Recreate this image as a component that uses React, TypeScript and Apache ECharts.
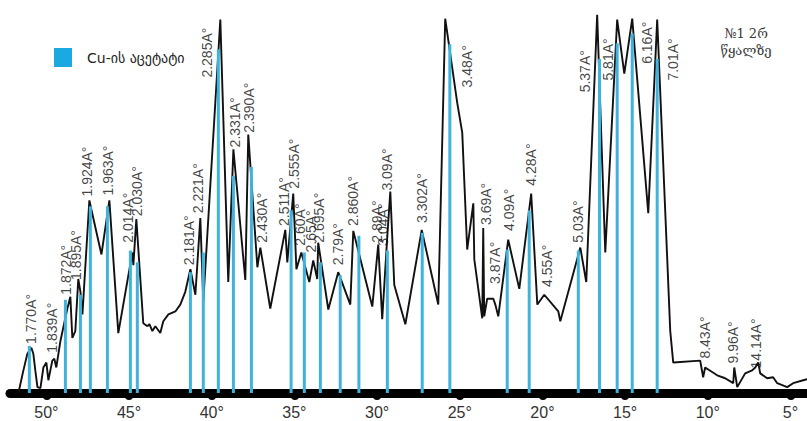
import React, { useEffect, useRef } from "react";
import * as echarts from "echarts";

// Measured diffraction pattern: 2θ (degrees) and intensity (arb. units)
const twoTheta = [
  51.69, 51.39, 51.15, 50.91, 50.79, 50.67, 50.54, 50.36, 50.18, 50.0, 49.88, 49.64, 49.52, 49.4,
  49.15, 48.73, 48.55, 48.43, 48.25, 48.07, 47.94, 47.82, 47.4, 46.67, 46.19, 45.65, 44.8, 44.74,
  44.56, 44.14, 43.89, 43.77, 43.59, 43.41, 43.11, 42.93, 42.62, 42.2, 41.9, 41.6, 41.29, 40.99,
  40.69, 40.51, 39.48, 39.0, 38.69, 37.97, 37.79, 37.24, 37.06, 36.46, 35.55, 35.43, 35.07, 34.88,
  34.58, 34.1, 33.86, 33.62, 33.56, 32.95, 32.35, 31.62, 31.44, 30.29, 29.93, 29.69, 29.38, 29.2,
  28.96, 28.29, 27.3, 26.3, 25.88, 25.15, 24.85, 24.55, 24.18, 24.12, 23.64, 23.58, 23.52, 23.34,
  22.97, 22.85, 22.67, 22.07, 21.4, 20.68, 20.31, 19.89, 19.04, 18.92, 17.71, 17.35, 16.69, 16.2,
  15.48, 15.05, 14.57, 13.6, 13.06, 12.27, 12.09, 10.46, 10.28, 10.16, 9.43, 8.95, 8.46, 8.4,
  8.22, 7.74, 7.32, 7.13, 6.95, 6.83, 6.41, 6.05, 5.8, 5.2, 4.84, 4.23, 3.81,
];
const intensity = [
  0, 23, 40, 46, 40, 23, 6, 5, 26, 31, 13, 33, 35, 26,
  53, 86, 98, 56, 63, 116, 103, 80, 196, 141, 196, 61, 143, 130,
  177, 71, 68, 70, 63, 68, 61, 73, 80, 83, 90, 103, 126, 100,
  178, 93, 380, 113, 248, 115, 263, 128, 148, 86, 166, 133, 203, 126,
  143, 113, 135, 116, 153, 85, 123, 90, 165, 88, 151, 75, 160, 205,
  110, 70, 166, 90, 381, 295, 265, 146, 193, 136, 76, 168, 78, 96,
  96, 90, 78, 156, 106, 203, 90, 100, 83, 73, 148, 113, 385, 143,
  380, 325, 381, 183, 380, 63, 31, 33, 16, 26, 18, 15, 10, 26,
  6, 20, 23, 26, 31, 20, 15, 16, 10, 6, 10, 13, 15,
];

// Reference lines for copper acetate: 2θ (degrees) and relative height
const acetateTwoTheta = [
  51.03, 48.85, 47.94, 47.34, 46.31, 44.92, 44.5, 41.29, 40.51, 39.6, 38.69, 37.6, 35.2, 34.4,
  33.43, 32.23, 31.1, 29.38, 27.27, 25.6, 22.13, 20.8, 17.83, 16.55, 15.48, 14.57, 13.06,
];
const acetateHeight = [
  48, 95, 100, 190, 190, 145, 133, 123, 143, 350, 221, 230, 186, 143,
  133, 120, 160, 145, 163, 355, 146, 186, 145, 340, 356, 366, 340,
];

// d-spacing annotations, anchored at the foot of each rotated label
const peakLabels = [
  "1.770A°", "1.839A°", "1.872A°", "1.895A°", "1.924A°", "1.963A°", "2.014A°", "2.030A°",
  "2.181A°", "2.221A°", "2.285A°", "2.331A°", "2.390A°", "2.430A°", "2.511A°", "2.555A°",
  "2.60A°", "2.65A°", "2.695A°", "2.79A°", "2.860A°", "2.89A°", "3.04A°", "3.09A°",
  "3.302A°", "3.48A°", "3.69A°", "3.87A°", "4.09A°", "4.28A°", "4.55A°", "5.03A°",
  "5.37A°", "5.81A°", "6.16A°", "7.01A°", "8.43A°", "9.96A°", "14.14A°",
];
const labelTwoTheta = [
  50.91, 49.64, 48.79, 48.19, 47.52, 46.25, 45.04, 44.5,
  41.35, 40.81, 40.27, 38.57, 37.73, 36.94, 35.61, 35.01,
  34.64, 33.97, 33.49, 32.34, 31.44, 29.99, 29.62, 29.38,
  27.27, 24.55, 23.4, 22.85, 22.01, 20.68, 19.71, 17.84,
  17.41, 16.02, 13.66, 12.09, 10.16, 8.46, 7.07,
];
const labelHeight = [
  50, 41, 100, 115, 200, 201, 153, 180,
  130, 183, 321, 250, 265, 153, 170, 208,
  150, 143, 153, 130, 170, 153, 150, 206,
  173, 311, 171, 111, 165, 211, 108, 153,
  306, 318, 335, 318, 35, 30, 25,
];

const axisTickValues = [5, 10, 15, 20, 25, 30, 35, 40, 45, 50];

const legendName = "Cu-ის აცეტატი";

export default function App() {
  const ref = useRef<HTMLDivElement>(null);

  useEffect(() => {
    if (!ref.current) return;
    const chart = echarts.init(ref.current, null, { renderer: "svg" });

    const patternData = twoTheta.map((t, i) => [t, intensity[i]]);
    const stickData = acetateTwoTheta.map((t, i) => [t, acetateHeight[i]]);
    const labelData = labelTwoTheta.map((t, i) => [t, labelHeight[i], peakLabels[i]]);

    chart.setOption({
      animation: false,
      backgroundColor: "#ffffff",
      grid: { left: 10, right: 0, top: -7, bottom: 28, containLabel: false },
      legend: {
        left: 49,
        top: 43,
        itemWidth: 18,
        itemHeight: 19,
        selectedMode: false,
        data: [{ name: legendName, icon: "rect", itemStyle: { color: "#1ca8e0" } }],
        textStyle: {
          fontFamily: "DejaVu Sans",
          fontSize: 14,
          color: "#222",
          padding: [0, 0, 0, 10],
        },
      },
      graphic: [
        {
          type: "text",
          x: 746,
          y: 25,
          style: {
            text: "№1 2რ\nწყალზე",
            textAlign: "center",
            fontFamily: "DejaVu Serif, DejaVu Sans",
            fontSize: 13,
            lineHeight: 17,
            fill: "#3a3a3a",
          },
        },
      ],
      xAxis: {
        type: "value",
        inverse: true,
        min: 4,
        max: 52.2,
        offset: 4,
        splitLine: { show: false },
        axisLine: { show: true, lineStyle: { color: "#000", width: 9, cap: "round" } },
        axisTick: {
          show: true,
          customValues: axisTickValues,
          length: 3,
          lineStyle: { color: "#000", width: 8, cap: "round" },
        },
        axisLabel: {
          customValues: axisTickValues,
          formatter: (v: number) => `${v}°`,
          margin: 7,
          fontFamily: "Liberation Sans, Arial, sans-serif",
          fontSize: 16,
          color: "#333",
        },
      },
      yAxis: {
        type: "value",
        min: 0,
        max: 400,
        show: false,
        splitLine: { show: false },
      },
      series: [
        {
          name: "pattern",
          type: "line",
          data: patternData,
          showSymbol: false,
          symbol: "none",
          z: 2,
          lineStyle: { color: "#111111", width: 1.9 },
        },
        {
          name: legendName,
          type: "bar",
          data: stickData,
          barWidth: 3,
          z: 3,
          itemStyle: { color: "#3fb3db" },
        },
        {
          name: "labels",
          type: "scatter",
          data: labelData,
          symbolSize: 0,
          silent: true,
          z: 4,
          itemStyle: { color: "transparent" },
          label: {
            show: true,
            position: [0, 0],
            rotate: 90,
            align: "left",
            verticalAlign: "middle",
            formatter: (p: any) => p.value[2],
            fontFamily: "Liberation Sans, Arial, sans-serif",
            fontSize: 14,
            color: "#111111",
            textBorderWidth: 0,
          },
        },
      ],
    });

    return () => chart.dispose();
  }, []);

  return <div ref={ref} style={{ width: 807, height: 421, position: "absolute", left: 0, top: 0 }} />;
}
